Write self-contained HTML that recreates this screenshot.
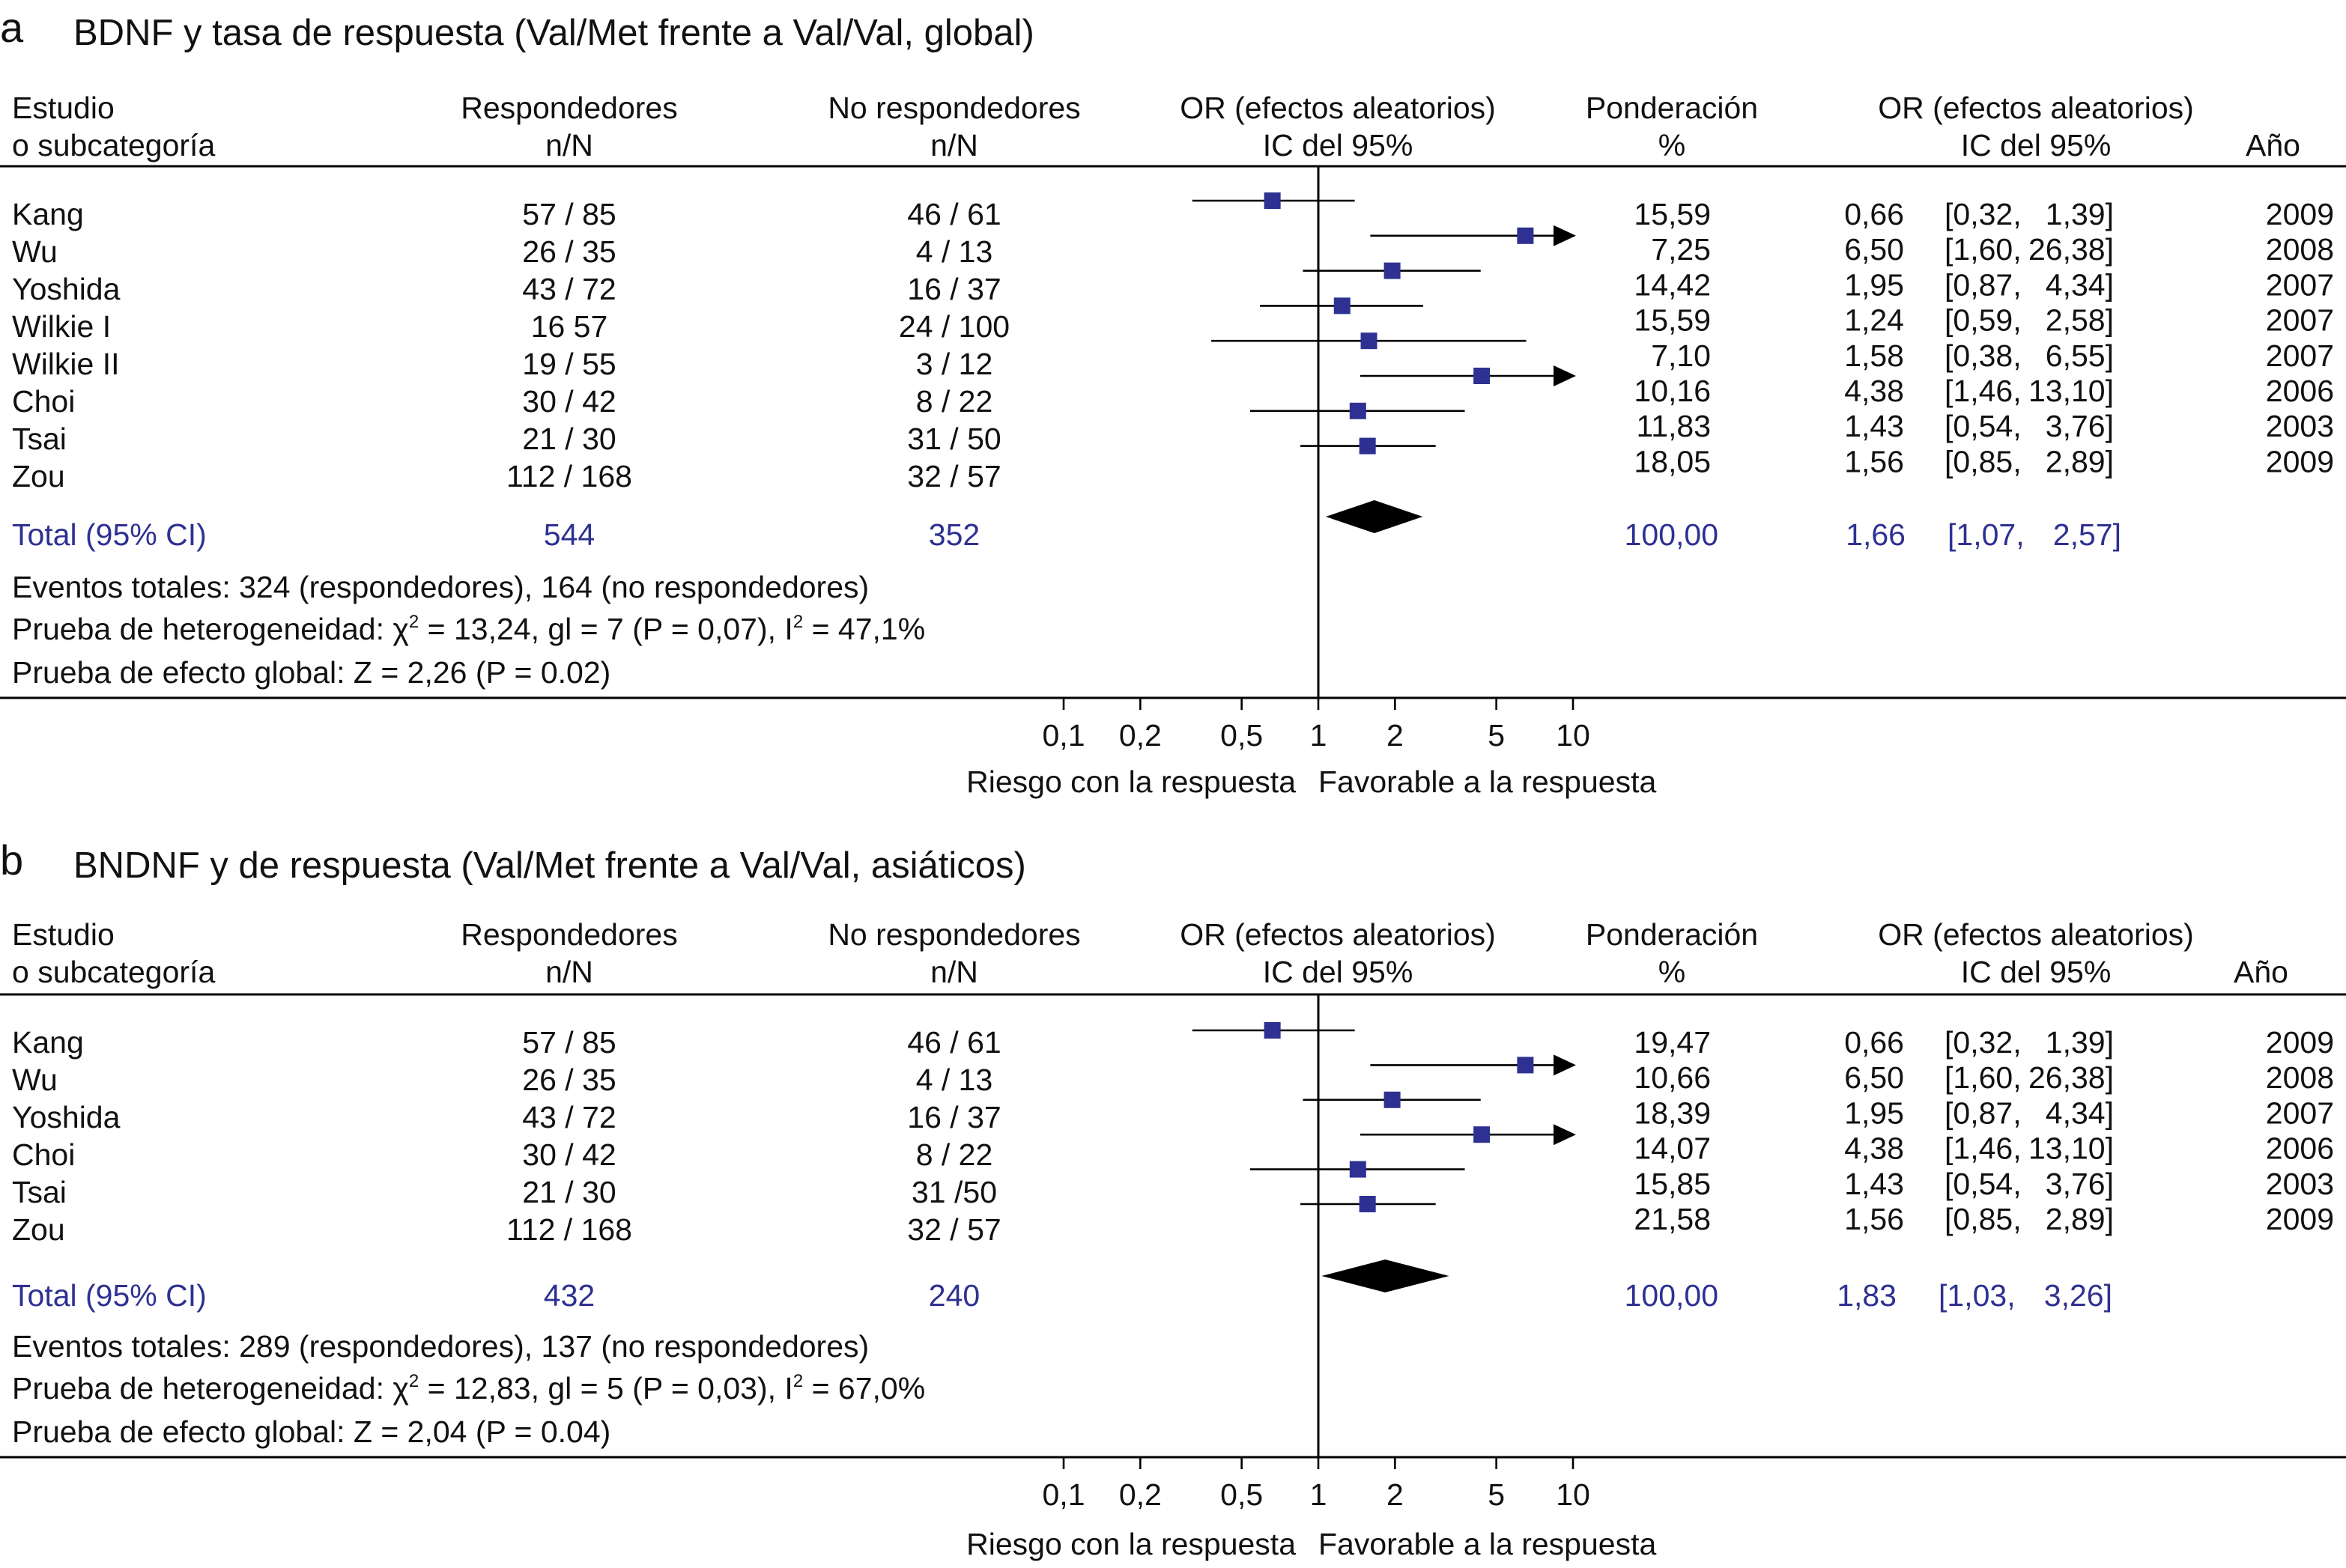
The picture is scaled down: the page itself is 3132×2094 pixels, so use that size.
<!DOCTYPE html>
<html><head><meta charset="utf-8"><style>
html,body{margin:0;padding:0;background:#fff}
svg{display:block}
text{font-family:"Liberation Sans",Arial,sans-serif;font-size:20.5px;fill:#111}
.b{fill:#2e3192}
</style></head><body>
<svg id="chart" xmlns="http://www.w3.org/2000/svg" width="3132" height="2094" viewBox="0 0 1566 1047">
</svg>
<script>
// Panel a data
const studiesA = ["Kang","Wu","Yoshida","Wilkie I","Wilkie II","Choi","Tsai","Zou"];
const respA = ["57 / 85","26 / 35","43 / 72","16 57","19 / 55","30 / 42","21 / 30","112 / 168"];
const nonRespA = ["46 / 61","4 / 13","16 / 37","24 / 100","3 / 12","8 / 22","31 / 50","32 / 57"];
const orA = [0.66,6.50,1.95,1.24,1.58,4.38,1.43,1.56];
const loA = [0.32,1.60,0.87,0.59,0.38,1.46,0.54,0.85];
const hiA = [1.39,26.38,4.34,2.58,6.55,13.10,3.76,2.89];
const weightA = [15.59,7.25,14.42,15.59,7.10,10.16,11.83,18.05];
const yearA = [2009,2008,2007,2007,2007,2006,2003,2009];
const totalA = {or:1.66, lo:1.07, hi:2.57, r:"544", n:"352"};
// Panel b data
const studiesB = ["Kang","Wu","Yoshida","Choi","Tsai","Zou"];
const respB = ["57 / 85","26 / 35","43 / 72","30 / 42","21 / 30","112 / 168"];
const nonRespB = ["46 / 61","4 / 13","16 / 37","8 / 22","31 /50","32 / 57"];
const orB = [0.66,6.50,1.95,4.38,1.43,1.56];
const loB = [0.32,1.60,0.87,1.46,0.54,0.85];
const hiB = [1.39,26.38,4.34,13.10,3.76,2.89];
const weightB = [19.47,10.66,18.39,14.07,15.85,21.58];
const yearB = [2009,2008,2007,2006,2003,2009];
const totalB = {or:1.83, lo:1.03, hi:3.26, r:"432", n:"240"};
const tickVals = [0.1,0.2,0.5,1,2,5,10];
const tickLabels = ["0,1","0,2","0,5","1","2","5","10"];

const svg = document.getElementById('chart');
const NS = "http://www.w3.org/2000/svg";
const xs = v => 880 + 170*Math.log10(v);
const fmt = v => v.toFixed(2).replace('.',',');
function el(tag, attrs, parent){const e=document.createElementNS(NS,tag);for(const k in attrs)e.setAttribute(k,attrs[k]);(parent||svg).appendChild(e);return e;}
function txt(x,y,s,anchor,cls,parent,size){const t=el('text',{x:x,y:y,'text-anchor':anchor||'start'},parent);if(cls)t.setAttribute('class',cls);if(size)t.style.fontSize=size+'px';t.textContent=s;return t;}

function panel(o){
  const g = el('g',{});
  
  
  const T=o.top;
  txt(0,T+14,o.letter,'start',null,g,28);
  txt(49,T+16,o.title,'start',null,g,24.5);
  const h = el('g',{},g);
  
  
  const y1=T+65+o.hOff, y2=T+90+o.hOff;
  txt(8,y1,'Estudio','start',null,h);txt(8,y2,'o subcategoría','start',null,h);
  txt(380,y1,'Respondedores','middle',null,h);txt(380,y2,'n/N','middle',null,h);
  txt(637,y1,'No respondedores','middle',null,h);txt(637,y2,'n/N','middle',null,h);
  txt(893,y1,'OR (efectos aleatorios)','middle',null,h);txt(893,y2,'IC del 95%','middle',null,h);
  txt(1116,y1,'Ponderación','middle',null,h);txt(1116,y2,'%','middle',null,h);
  txt(1359,y1,'OR (efectos aleatorios)','middle',null,h);txt(1359,y2,'IC del 95%','middle',null,h);
  txt(o.yearX,y2,'Año','start',null,h);
  const lineY=o.lineY;
  el('line',{x1:0,x2:1566,y1:lineY,y2:lineY,stroke:'#000','stroke-width':1.5},g);
  el('line',{x1:880,x2:880,y1:lineY,y2:o.botY,stroke:'#000','stroke-width':1.5},g);
  el('line',{x1:0,x2:1566,y1:o.botY,y2:o.botY,stroke:'#000','stroke-width':1.5},g);
  for(let i=0;i<o.studies.length;i++){
    const row=el('g',{},g);
    
    
    const ly=o.leftY0+25*i+7;
    txt(8,ly,o.studies[i],'start',null,row);
    txt(380,ly,o.resp[i],'middle',null,row);
    txt(637,ly,o.non[i],'middle',null,row);
    const ry=o.rightY0+o.rightDy*i+7;
    txt(1142,ry,fmt(o.w[i]),'end',null,row);
    txt(1271,ry,fmt(o.or[i]),'end',null,row);
    txt(1298,ry,'['+fmt(o.lo[i])+',','start',null,row);
    txt(1411,ry,fmt(o.hi[i])+']','end',null,row);
    txt(1558,ry,String(o.year[i]),'end',null,row);
    const my=o.markY0+o.markDy*i;
    const hx = o.hi[i]>10 ? 1050 : xs(o.hi[i]);
    const ci=el('line',{x1:xs(o.lo[i]),x2:hx,y1:my,y2:my,stroke:'#000','stroke-width':1.3},row);
    
    
    if(o.hi[i]>10){
      const ar=el('polygon',{points:`${1052},${my} ${1037},${my-7} ${1037},${my+7}`,fill:'#000'},row);
      
      
    }
    const sq=el('rect',{x:xs(o.or[i])-5.5,y:my-5.5,width:11,height:11,fill:'#2e3192'},row);
    
    
  }
  const tot=el('g',{},g);
  
  
  const ty=o.totY+7;
  txt(8,ty,'Total (95% CI)','start','b',tot);
  txt(380,ty,o.total.r,'middle','b',tot);
  txt(637,ty,o.total.n,'middle','b',tot);
  txt(1147,ty,'100,00','end','b',tot);
  txt(1272+o.totShift,ty,fmt(o.total.or),'end','b',tot);
  txt(1300+o.totShift,ty,'['+fmt(o.total.lo)+',','start','b',tot);
  txt(1416+o.totShift,ty,fmt(o.total.hi)+']','end','b',tot);
  const dy=o.diaY, dh=11;
  const d=el('polygon',{points:`${xs(o.total.lo)},${dy} ${xs(o.total.or)},${dy-dh} ${xs(o.total.hi)},${dy} ${xs(o.total.or)},${dy+dh}`,fill:'#000'},tot);
  
  
  const f=el('g',{},g);
  
  
  txt(8,o.fY+7,o.f1,'start',null,f);
  const t2=el('text',{x:8,y:o.fY+35},f);
  t2.innerHTML='Prueba de heterogeneidad: χ<tspan dy="-8" style="font-size:12px">2</tspan><tspan dy="8"> '+o.f2a+', I</tspan><tspan dy="-8" style="font-size:12px">2</tspan><tspan dy="8"> '+o.f2b+'</tspan>';
  txt(8,o.fY+64,o.f3,'start',null,f);
  const ax=el('g',{},g);
  
  
  for(let i=0;i<tickVals.length;i++){
    const x=xs(tickVals[i]);
    el('line',{x1:x,x2:x,y1:o.botY,y2:o.botY+8,stroke:'#000','stroke-width':1.3},ax);
    txt(x,o.botY+32,tickLabels[i],'middle',null,ax);
  }
  txt(865,o.capY,'Riesgo con la respuesta','end',null,ax);
  txt(880,o.capY,'Favorable a la respuesta','start',null,ax);
}
panel({letter:'a',top:14,hOff:0,title:'BDNF y tasa de respuesta (Val/Met frente a Val/Val, global)',yearX:1499,lineY:111,botY:466,
 studies:studiesA,resp:respA,non:nonRespA,or:orA,lo:loA,hi:hiA,w:weightA,year:yearA,total:totalA,
 leftY0:143,rightY0:143,rightDy:23.6,markY0:134,markDy:23.4,totY:357,diaY:345,totShift:0,fY:392,capY:529,
 f1:'Eventos totales: 324 (respondedores), 164 (no respondedores)',f2a:'= 13,24, gl = 7 (P = 0,07)',f2b:'= 47,1%',f3:'Prueba de efecto global: Z = 2,26 (P = 0.02)'});
panel({letter:'b',top:570,hOff:-4,title:'BNDNF y de respuesta (Val/Met frente a Val/Val, asiáticos)',yearX:1491,lineY:664,botY:973,
 studies:studiesB,resp:respB,non:nonRespB,or:orB,lo:loB,hi:hiB,w:weightB,year:yearB,total:totalB,
 leftY0:696,rightY0:696,rightDy:23.6,markY0:688,markDy:23.2,totY:865,diaY:852,totShift:-6,fY:899,capY:1038,
 f1:'Eventos totales: 289 (respondedores), 137 (no respondedores)',f2a:'= 12,83, gl = 5 (P = 0,03)',f2b:'= 67,0%',f3:'Prueba de efecto global: Z = 2,04 (P = 0.04)'});
</script>
</body></html>
